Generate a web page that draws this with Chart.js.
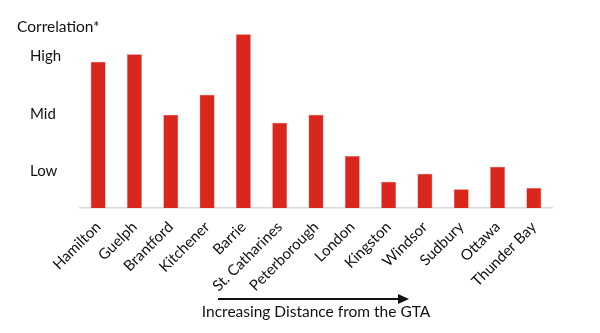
<!DOCTYPE html>
<html>
<head>
<meta charset="utf-8">
<script src="https://cdn.jsdelivr.net/npm/chart.js@4/dist/chart.umd.min.js"></script>
<style>
  html, body { margin: 0; padding: 0; background: #fff; }
  #wrap { width: 600px; height: 333px; position: relative; }
</style>
</head>
<body>
<div id="wrap"><canvas id="chart"></canvas></div>
<script>
const cities = ["Hamilton", "Guelph", "Brantford", "Kitchener", "Barrie", "St. Catharines",
  "Peterborough", "London", "Kingston", "Windsor", "Sudbury", "Ottawa", "Thunder Bay"]
const correlation = [2.91, 3.04, 1.98, 2.33, 3.39, 1.84, 1.98, 1.26, 0.81, 0.95, 0.68, 1.07, 0.70]
const levelValues = [1, 2, 3]
const levelLabels = ["Low", "Mid", "High"]

const barRed = "#da271d"
const fontFamily = "Lato, 'Open Sans', sans-serif"

// title, arrow and the caption under the city names
const annotations = {
  id: "annotations",
  afterDraw(chart) {
    const ctx = chart.ctx
    const area = chart.chartArea
    const mid = (area.left + area.right) / 2
    ctx.save()
    ctx.fillStyle = "#111"
    ctx.strokeStyle = "#111"
    ctx.font = "15.5px " + fontFamily
    ctx.textBaseline = "middle"
    ctx.textAlign = "left"
    ctx.fillText("Correlation*", 17, 27)

    const y = 299
    ctx.lineWidth = 2
    ctx.beginPath()
    ctx.moveTo(mid - 98, y)
    ctx.lineTo(mid + 86, y)
    ctx.stroke()
    ctx.beginPath()
    ctx.moveTo(mid + 93, y)
    ctx.lineTo(mid + 82, y - 5)
    ctx.lineTo(mid + 82, y + 5)
    ctx.closePath()
    ctx.fill()

    ctx.textAlign = "center"
    ctx.fillText("Increasing Distance from the GTA", mid, 312)
    ctx.restore()
  }
}

new Chart(document.getElementById("chart"), {
  type: "bar",
  data: {
    labels: cities,
    datasets: [{
      data: correlation,
      backgroundColor: barRed,
      borderColor: "#e0584f",
      borderWidth: 0.5,
      barPercentage: 0.41,
      categoryPercentage: 1
    }]
  },
  options: {
    responsive: true,
    maintainAspectRatio: false,
    animation: false,
    layout: { padding: { top: 28, left: 30, right: 48, bottom: 0 } },
    plugins: {
      legend: { display: false },
      tooltip: { enabled: false }
    },
    scales: {
      x: {
        grid: { display: false, drawTicks: false },
        border: { color: "#d9d9d9", width: 1.5 },
        ticks: {
          color: "#111",
          font: { family: fontFamily, size: 15 },
          minRotation: 45,
          maxRotation: 45,
          padding: 10,
          autoSkip: false
        },
        afterFit: (axis) => { axis.height = 125 }
      },
      y: {
        min: 0.35,
        max: 3.5,
        grid: { display: false, drawTicks: false },
        border: { display: false },
        afterBuildTicks: (axis) => {
          axis.ticks = levelValues.map(v => ({ value: v }))
        },
        ticks: {
          color: "#111",
          crossAlign: "far",
          font: { family: fontFamily, size: 15 },
          callback: (val) => levelLabels[levelValues.indexOf(val)]
        },
        afterFit: (axis) => { axis.width = 50 }
      }
    }
  },
  plugins: [annotations]
})
</script>
</body>
</html>
